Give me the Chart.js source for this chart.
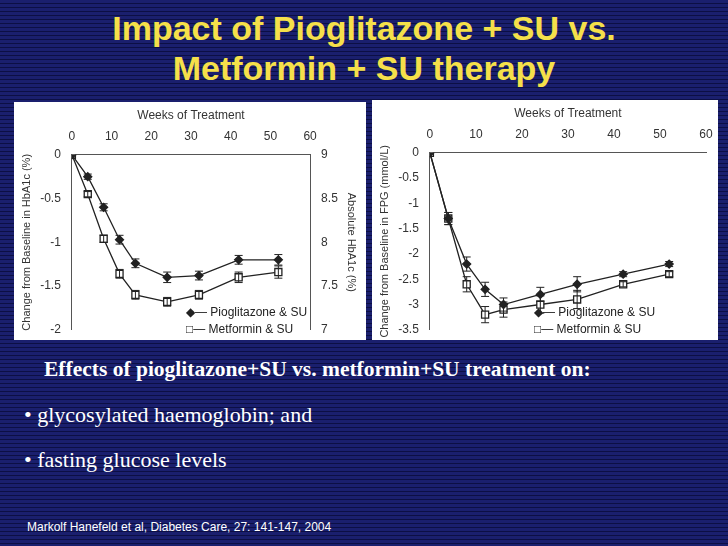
<!DOCTYPE html>
<html>
<head>
<meta charset="utf-8">
<script src="https://cdn.jsdelivr.net/npm/chart.js@4/dist/chart.umd.min.js"></script>
<style>
body { margin:0; width:728px; height:546px; overflow:hidden; position:relative;
  background: repeating-linear-gradient(to bottom, #1a1f6e 0px, #1a1f6e 3px, #0c0f45 3px, #0c0f45 4px); font-family: "Liberation Sans", Arial, sans-serif; }
h1 { position:absolute; left:0; width:728px; top:8px; margin:0; text-align:center; color:#f5e04a; font-size:34px; line-height:40px; font-weight:bold; }
.panel { position:absolute; background:#fff; }
.legend { position:absolute; font-size:12px; color:#222; line-height:17px; }
.txt { position:absolute; color:#fff; font-family:"Liberation Serif", "Times New Roman", serif; font-size:22px; }
</style>
</head>
<body>
<h1>Impact of Pioglitazone + SU vs.<br>Metformin + SU therapy</h1>
<div class="panel" style="left:14px;top:102px;width:352px;height:238px"><canvas id="hba"></canvas>
  <div class="legend" style="left:172px;top:202px">◆— Pioglitazone &amp; SU<br>□— Metformin &amp; SU</div></div>
<div class="panel" style="left:372px;top:100px;width:346px;height:240px"><canvas id="fpg"></canvas>
  <div class="legend" style="left:162px;top:204px">◆— Pioglitazone &amp; SU<br>□— Metformin &amp; SU</div></div>
<div class="txt" style="left:44px;top:357px;font-weight:bold;font-size:21.5px">Effects of pioglitazone+SU vs. metformin+SU treatment on:</div>
<div class="txt" style="left:24px;top:402px">•&nbsp;glycosylated haemoglobin; and</div>
<div class="txt" style="left:24px;top:447px">•&nbsp;fasting glucose levels</div>
<div style="position:absolute;left:27px;top:520px;color:#fff;font-size:12px">Markolf Hanefeld et al, Diabetes Care, 27: 141-147, 2004</div>
<script>
const weeks = [0, 4, 8, 12, 16, 24, 32, 42, 52];
const hbaPio = [0, -0.25, -0.6, -0.97, -1.24, -1.4, -1.38, -1.2, -1.2];
const hbaPioErr = [0, 0.03, 0.04, 0.05, 0.05, 0.06, 0.05, 0.05, 0.06];
const hbaMet = [0, -0.45, -0.96, -1.36, -1.6, -1.68, -1.6, -1.4, -1.34];
const hbaMetErr = [0, 0.03, 0.04, 0.05, 0.05, 0.05, 0.05, 0.06, 0.07];
const fpgPio = [0, -1.3, -2.2, -2.7, -3.0, -2.8, -2.6, -2.4, -2.2];
const fpgPioErr = [0, 0.12, 0.14, 0.14, 0.13, 0.14, 0.15, 0.05, 0.05];
const fpgMet = [0, -1.3, -2.6, -3.2, -3.1, -3.0, -2.9, -2.6, -2.4];
const fpgMetErr = [0, 0.12, 0.15, 0.16, 0.15, 0.17, 0.18, 0.05, 0.05];

const errorBars = {
  id: 'errorBars',
  afterDatasetsDraw(chart) {
    const ctx = chart.ctx, y = chart.scales.y;
    chart.data.datasets.forEach((ds, i) => {
      chart.getDatasetMeta(i).data.forEach((pt, j) => {
        const e = ds.err[j]; if (!e) return;
        const v = ds.data[j].y, t = y.getPixelForValue(v + e), b = y.getPixelForValue(v - e);
        ctx.save(); ctx.strokeStyle = '#222'; ctx.lineWidth = 1;
        ctx.beginPath(); ctx.moveTo(pt.x, t); ctx.lineTo(pt.x, b);
        ctx.moveTo(pt.x - 4, t); ctx.lineTo(pt.x + 4, t);
        ctx.moveTo(pt.x - 4, b); ctx.lineTo(pt.x + 4, b); ctx.stroke(); ctx.restore();
      });
    });
  }
};

function series(vals, errs, filled) {
  return {
    data: weeks.map((w, i) => ({ x: w, y: vals[i] })), err: errs,
    borderColor: '#222', borderWidth: 1.3, pointBorderColor: '#222',
    backgroundColor: filled ? '#222' : '#fff',
    pointStyle: filled ? 'rectRot' : 'rect', pointRadius: filled ? 4 : 5
  };
}
const font = { family: 'Liberation Sans', size: 12 };
const plain = v => String(v);
function xAxis() {
  return { type: 'linear', position: 'top', min: 0, max: 60,
    title: { display: true, text: 'Weeks of Treatment', color: '#333', font },
    ticks: { stepSize: 10, color: '#333', font }, grid: { display: false },
    border: { color: '#555' } };
}
function yAxis(min, max, step, label) {
  return { min, max, ticks: { stepSize: step, color: '#333', font, callback: plain }, grid: { display: false },
    border: { color: '#555' }, title: { display: true, text: label, color: '#333', font: { ...font, size: 11 } } };
}
const common = { responsive: false, animation: false,
  plugins: { legend: { display: false }, tooltip: { enabled: false } } };

const c1 = document.getElementById('hba'); c1.width = 352; c1.height = 238;
new Chart(c1, {
  type: 'line',
  data: { datasets: [series(hbaPio, hbaPioErr, true), series(hbaMet, hbaMetErr, false)] },
  options: { ...common, layout: { padding: { top: 2, bottom: 6, left: 2, right: 4 } },
    scales: { x: xAxis(), y: yAxis(-2, 0, 0.5, 'Change from Baseline in HbA1c (%)'),
      y2: { position: 'right', min: 7, max: 9, ticks: { stepSize: 0.5, color: '#333', font, callback: plain },
        grid: { display: false }, border: { color: '#555' },
        title: { display: true, text: 'Absolute HbA1c (%)', color: '#333', font: { ...font, size: 11 } } } } },
  plugins: [errorBars]
});

const c2 = document.getElementById('fpg'); c2.width = 346; c2.height = 240;
new Chart(c2, {
  type: 'line',
  data: { datasets: [series(fpgPio, fpgPioErr, true), series(fpgMet, fpgMetErr, false)] },
  options: { ...common, layout: { padding: { top: 2, bottom: 6, left: 2, right: 12 } },
    scales: { x: xAxis(), y: yAxis(-3.5, 0, 0.5, 'Change from Baseline in FPG (mmol/L)') } },
  plugins: [errorBars]
});
</script>
</body>
</html>
